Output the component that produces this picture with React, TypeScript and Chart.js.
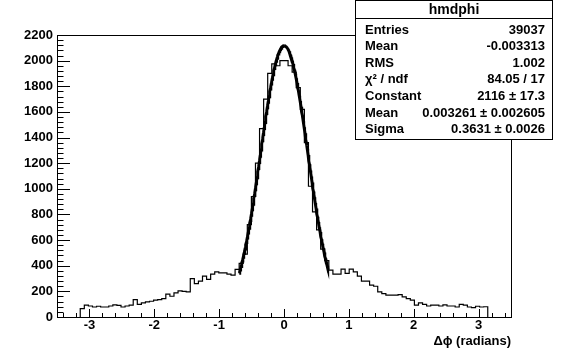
import { useEffect, useRef } from "react";
import { Chart, registerables } from "chart.js";

Chart.register(...registerables);

// Histogram hmdphi: 100 bins from -pi to pi
const HIST_MIN = -Math.PI;
const HIST_MAX = Math.PI;
const BIN_COUNTS = [
  66, 92, 86, 78, 84, 78, 78, 86, 94, 90,
  78, 86, 92, 136, 99, 110, 118, 123, 131, 136,
  144, 178, 162, 188, 204, 200, 196, 300, 261, 280,
  319, 293, 334, 352, 345, 345, 334, 327, 371, 418,
  490, 720, 940, 1200, 1470, 1700, 1900, 1975, 1960, 2000,
  2000, 1960, 1910, 1790, 1620, 1360, 1020, 820, 680, 530,
  440, 365, 334, 334, 373, 340, 373, 352, 319, 280,
  280, 248, 240, 196, 183, 170, 170, 170, 175, 157,
  144, 131, 92, 110, 98, 86, 92, 92, 86, 94,
  86, 86, 78, 99, 92, 78, 73, 84, 78, 80,
];

// Gaussian fit parameters (from the stats box) and fit range
const FIT_CONSTANT = 2116;
const FIT_MEAN = 0.003261;
const FIT_SIGMA = 0.3631;
const FIT_RANGE = [-0.69, 0.68];

const X_TICKS = [-3, -2, -1, 0, 1, 2, 3];
const Y_TICKS = [0, 200, 400, 600, 800, 1000, 1200, 1400, 1600, 1800, 2000, 2200];
const X_AXIS_TITLE = "Δϕ (radians)";

const STATS_TITLE = "hmdphi";
const STATS_LABELS = ["Entries", "Mean", "RMS", "χ² / ndf", "Constant", "Mean", "Sigma"];
const STATS_VALUES = ["39037", "-0.003313", "1.002", "84.05 / 17", "2116 ± 17.3", "0.003261 ± 0.002605", "0.3631 ± 0.0026"];

const FONT = '"Liberation Sans", Arial, Helvetica, sans-serif';

function histPoints() {
  const n = BIN_COUNTS.length;
  const w = (HIST_MAX - HIST_MIN) / n;
  // stepped "before": each point's value is held up to the next point's x
  const pts: { x: number; y: number }[] = [{ x: HIST_MIN, y: 0 }, { x: HIST_MIN, y: BIN_COUNTS[0] }];
  for (let i = 1; i < n; i++) pts.push({ x: HIST_MIN + i * w, y: BIN_COUNTS[i] });
  pts.push({ x: HIST_MAX, y: 0 });
  return pts;
}

function fitPoints() {
  const pts: { x: number; y: number }[] = [];
  const steps = 200;
  for (let i = 0; i <= steps; i++) {
    const x = FIT_RANGE[0] + ((FIT_RANGE[1] - FIT_RANGE[0]) * i) / steps;
    const z = (x - FIT_MEAN) / FIT_SIGMA;
    pts.push({ x, y: FIT_CONSTANT * Math.exp(-0.5 * z * z) });
  }
  return pts;
}

const rootStyle = {
  id: "rootStyle",
  afterDraw(chart: any) {
    const { ctx, chartArea: a, scales } = chart;
    const xs = scales.x;
    const ys = scales.y;
    ctx.save();
    ctx.strokeStyle = "#000";
    ctx.lineWidth = 1;
    ctx.strokeRect(Math.round(a.left) + 0.5, Math.round(a.top) + 0.5, Math.round(a.right - a.left), Math.round(a.bottom - a.top));
    ctx.beginPath();
    for (let v = 0; v <= 2200 + 1e-6; v += 40) {
      const major = Math.abs(v % 200) < 1e-6;
      const y = Math.round(ys.getPixelForValue(v)) + 0.5;
      ctx.moveTo(a.left, y);
      ctx.lineTo(a.left + (major ? 13 : 6.5), y);
    }
    for (let k = -17; k <= 17; k++) {
      const v = k * 0.2;
      const major = k % 5 === 0;
      const x = Math.round(xs.getPixelForValue(v)) + 0.5;
      ctx.moveTo(x, a.bottom);
      ctx.lineTo(x, a.bottom - (major ? 8 : 4));
    }
    ctx.stroke();

    // stats box
    const bx = 355.5, by = 0.5, bw = 197, bh = 139;
    ctx.fillStyle = "#fff";
    ctx.fillRect(bx, by, bw, bh);
    ctx.strokeRect(bx, by, bw, bh);
    ctx.beginPath();
    ctx.moveTo(bx, 18.5);
    ctx.lineTo(bx + bw, 18.5);
    ctx.stroke();
    ctx.fillStyle = "#000";
    ctx.textBaseline = "middle";
    ctx.font = `bold 14px ${FONT}`;
    ctx.textAlign = "center";
    ctx.fillText(STATS_TITLE, bx + bw / 2, 10);
    ctx.font = `bold 13px ${FONT}`;
    STATS_LABELS.forEach((lab, i) => {
      const y = 30 + i * 16.6;
      ctx.textAlign = "left";
      ctx.fillText(lab, 365, y);
      ctx.textAlign = "right";
      ctx.fillText(STATS_VALUES[i], 545, y);
    });
    ctx.restore();
  },
};

export default function App() {
  const ref = useRef<HTMLCanvasElement | null>(null);
  useEffect(() => {
    document.body.style.margin = "0";
    if (!ref.current) return;
    const chart = new Chart(ref.current, {
      type: "line",
      data: {
        datasets: [
          {
            data: histPoints(),
            stepped: "before",
            borderColor: "#000",
            borderWidth: 1.2,
            pointRadius: 0,
            fill: false,
          },
          {
            data: fitPoints(),
            borderColor: "#000",
            borderWidth: 3,
            pointRadius: 0,
            tension: 0,
            fill: false,
          },
        ],
      },
      options: {
        responsive: false,
        animation: false,
        devicePixelRatio: 1,
        layout: { padding: { top: 35, right: 57, left: 0, bottom: 0 } },
        plugins: { legend: { display: false }, tooltip: { enabled: false } },
        scales: {
          x: {
            type: "linear",
            min: -3.5,
            max: 3.5,
            grid: { display: false, drawTicks: false },
            border: { display: false },
            afterBuildTicks: (s: any) => {
              s.ticks = X_TICKS.map((v) => ({ value: v }));
            },
            afterFit: (s: any) => {
              s.height = 36;
            },
            ticks: {
              color: "#000",
              font: { family: FONT, size: 13, weight: "bold" },
              padding: 1,
              maxRotation: 0,
              autoSkip: false,
              callback: (v: any) => String(v),
            },
            title: {
              display: true,
              text: X_AXIS_TITLE,
              align: "end",
              color: "#000",
              font: { family: FONT, size: 13, weight: "bold" },
              padding: { top: 0, bottom: 4 },
            },
          },
          y: {
            type: "linear",
            min: 0,
            max: 2200,
            grid: { display: false, drawTicks: false },
            border: { display: false },
            afterBuildTicks: (s: any) => {
              s.ticks = Y_TICKS.map((v) => ({ value: v }));
            },
            afterFit: (s: any) => {
              s.width = 57;
            },
            ticks: {
              color: "#000",
              font: { family: FONT, size: 13, weight: "bold" },
              padding: 4,
              autoSkip: false,
              callback: (v: any) => String(v),
            },
          },
        },
      },
      plugins: [rootStyle],
    });
    return () => chart.destroy();
  }, []);
  return (
    <div style={{ width: 568, height: 353, background: "#fff" }}>
      <canvas ref={ref} width={568} height={353} style={{ display: "block" }} />
    </div>
  );
}
